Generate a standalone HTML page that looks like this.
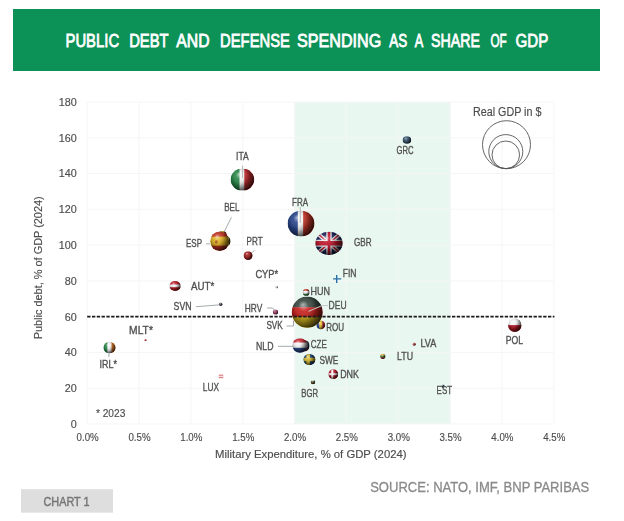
<!DOCTYPE html>
<html><head><meta charset="utf-8"><title>Public debt and defense spending</title>
<style>
html,body{margin:0;padding:0;background:#fff;}
body{width:624px;height:521px;overflow:hidden;position:relative;font-family:"Liberation Sans",sans-serif;}
svg{position:absolute;left:0;top:0;filter:blur(0.4px);}
text{font-family:"Liberation Sans",sans-serif;}
.lb{font-size:10.9px;fill:#505050;stroke:#505050;stroke-width:0.35px;}
.ax{font-size:10.8px;fill:#4c4c4c;stroke:#4c4c4c;stroke-width:0.15px;}
</style></head><body>
<svg width="624" height="521" viewBox="0 0 624 521">
<defs>
<radialGradient id="sh" cx="0.45" cy="0.42" r="0.62" fx="0.36" fy="0.26">
<stop offset="0" stop-color="#fff" stop-opacity="0.6"/>
<stop offset="0.28" stop-color="#fff" stop-opacity="0.08"/>
<stop offset="0.6" stop-color="#000" stop-opacity="0.18"/>
<stop offset="0.85" stop-color="#000" stop-opacity="0.5"/>
<stop offset="1" stop-color="#000" stop-opacity="0.78"/>
</radialGradient>
<linearGradient id="sr" x1="0" y1="0.2" x2="1" y2="0.6"><stop offset="0.55" stop-color="#000" stop-opacity="0"/><stop offset="1" stop-color="#1a0a00" stop-opacity="0.45"/></linearGradient>
<filter id="bl" x="-20%" y="-20%" width="140%" height="140%"><feGaussianBlur stdDeviation="0.45"/></filter>
</defs>

<rect x="13" y="9" width="587" height="62" fill="#0c9157"/>
<text x="65.5" y="47.2" font-size="18.5" fill="#fff" stroke="#fff" stroke-width="0.8" textLength="53.6" lengthAdjust="spacingAndGlyphs">PUBLIC</text>
<text x="129.2" y="47.2" font-size="18.5" fill="#fff" stroke="#fff" stroke-width="0.8" textLength="39.4" lengthAdjust="spacingAndGlyphs">DEBT</text>
<text x="176.3" y="47.2" font-size="18.5" fill="#fff" stroke="#fff" stroke-width="0.8" textLength="33.2" lengthAdjust="spacingAndGlyphs">AND</text>
<text x="220.1" y="47.2" font-size="18.5" fill="#fff" stroke="#fff" stroke-width="0.8" textLength="69.8" lengthAdjust="spacingAndGlyphs">DEFENSE</text>
<text x="297.0" y="47.2" font-size="18.5" fill="#fff" stroke="#fff" stroke-width="0.8" textLength="84.2" lengthAdjust="spacingAndGlyphs">SPENDING</text>
<text x="389.2" y="47.2" font-size="18.5" fill="#fff" stroke="#fff" stroke-width="0.8" textLength="18.0" lengthAdjust="spacingAndGlyphs">AS</text>
<text x="414.7" y="47.2" font-size="18.5" fill="#fff" stroke="#fff" stroke-width="0.8" textLength="8.5" lengthAdjust="spacingAndGlyphs">A</text>
<text x="431.1" y="47.2" font-size="18.5" fill="#fff" stroke="#fff" stroke-width="0.8" textLength="48.8" lengthAdjust="spacingAndGlyphs">SHARE</text>
<text x="490.4" y="47.2" font-size="18.5" fill="#fff" stroke="#fff" stroke-width="0.8" textLength="16.3" lengthAdjust="spacingAndGlyphs">OF</text>
<text x="515.5" y="47.2" font-size="18.5" fill="#fff" stroke="#fff" stroke-width="0.8" textLength="32.8" lengthAdjust="spacingAndGlyphs">GDP</text>
<rect x="294.6" y="102.0" width="156.1" height="322.0" fill="#e9f7f1"/>
<line x1="87.2" y1="102.0" x2="87.2" y2="424.0" stroke="#f5f5f5" stroke-width="1"/>
<line x1="139.1" y1="102.0" x2="139.1" y2="424.0" stroke="#f5f5f5" stroke-width="1"/>
<line x1="190.9" y1="102.0" x2="190.9" y2="424.0" stroke="#f5f5f5" stroke-width="1"/>
<line x1="242.8" y1="102.0" x2="242.8" y2="424.0" stroke="#f5f5f5" stroke-width="1"/>
<line x1="294.6" y1="102.0" x2="294.6" y2="424.0" stroke="#f5f5f5" stroke-width="1"/>
<line x1="346.4" y1="102.0" x2="346.4" y2="424.0" stroke="#f5f5f5" stroke-width="1"/>
<line x1="398.3" y1="102.0" x2="398.3" y2="424.0" stroke="#f5f5f5" stroke-width="1"/>
<line x1="450.1" y1="102.0" x2="450.1" y2="424.0" stroke="#f5f5f5" stroke-width="1"/>
<line x1="502.0" y1="102.0" x2="502.0" y2="424.0" stroke="#f5f5f5" stroke-width="1"/>
<line x1="553.9" y1="102.0" x2="553.9" y2="424.0" stroke="#f5f5f5" stroke-width="1"/>
<line x1="87.2" y1="424.0" x2="553.9" y2="424.0" stroke="#f5f5f5" stroke-width="1"/>
<line x1="87.2" y1="388.2" x2="553.9" y2="388.2" stroke="#f5f5f5" stroke-width="1"/>
<line x1="87.2" y1="352.4" x2="553.9" y2="352.4" stroke="#f5f5f5" stroke-width="1"/>
<line x1="87.2" y1="316.7" x2="553.9" y2="316.7" stroke="#f5f5f5" stroke-width="1"/>
<line x1="87.2" y1="280.9" x2="553.9" y2="280.9" stroke="#f5f5f5" stroke-width="1"/>
<line x1="87.2" y1="245.1" x2="553.9" y2="245.1" stroke="#f5f5f5" stroke-width="1"/>
<line x1="87.2" y1="209.3" x2="553.9" y2="209.3" stroke="#f5f5f5" stroke-width="1"/>
<line x1="87.2" y1="173.5" x2="553.9" y2="173.5" stroke="#f5f5f5" stroke-width="1"/>
<line x1="87.2" y1="137.8" x2="553.9" y2="137.8" stroke="#f5f5f5" stroke-width="1"/>
<line x1="87.2" y1="102.0" x2="553.9" y2="102.0" stroke="#f5f5f5" stroke-width="1"/>
<text class="ax" transform="translate(76.8,427.9) scale(1,1)" text-anchor="end">0</text>
<text class="ax" transform="translate(76.8,392.1) scale(1,1)" text-anchor="end">20</text>
<text class="ax" transform="translate(76.8,356.3) scale(1,1)" text-anchor="end">40</text>
<text class="ax" transform="translate(76.8,320.6) scale(1,1)" text-anchor="end">60</text>
<text class="ax" transform="translate(76.8,284.8) scale(1,1)" text-anchor="end">80</text>
<text class="ax" transform="translate(76.8,249.0) scale(1,1)" text-anchor="end">100</text>
<text class="ax" transform="translate(76.8,213.2) scale(1,1)" text-anchor="end">120</text>
<text class="ax" transform="translate(76.8,177.4) scale(1,1)" text-anchor="end">140</text>
<text class="ax" transform="translate(76.8,141.7) scale(1,1)" text-anchor="end">160</text>
<text class="ax" transform="translate(76.8,105.9) scale(1,1)" text-anchor="end">180</text>
<text class="ax" transform="translate(87.6,441.3) scale(0.9,1)" text-anchor="middle">0.0%</text>
<text class="ax" transform="translate(139.5,441.3) scale(0.9,1)" text-anchor="middle">0.5%</text>
<text class="ax" transform="translate(191.3,441.3) scale(0.9,1)" text-anchor="middle">1.0%</text>
<text class="ax" transform="translate(243.2,441.3) scale(0.9,1)" text-anchor="middle">1.5%</text>
<text class="ax" transform="translate(295.0,441.3) scale(0.9,1)" text-anchor="middle">2.0%</text>
<text class="ax" transform="translate(346.8,441.3) scale(0.9,1)" text-anchor="middle">2.5%</text>
<text class="ax" transform="translate(398.7,441.3) scale(0.9,1)" text-anchor="middle">3.0%</text>
<text class="ax" transform="translate(450.5,441.3) scale(0.9,1)" text-anchor="middle">3.5%</text>
<text class="ax" transform="translate(502.4,441.3) scale(0.9,1)" text-anchor="middle">4.0%</text>
<text class="ax" transform="translate(554.2,441.3) scale(0.9,1)" text-anchor="middle">4.5%</text>
<text class="ax" x="310.8" y="457.6" text-anchor="middle" textLength="191.5" lengthAdjust="spacingAndGlyphs">Military Expenditure, % of GDP (2024)</text>
<text class="ax" transform="translate(41.5,267.8) rotate(-90)" text-anchor="middle" textLength="143" lengthAdjust="spacingAndGlyphs">Public debt, % of GDP (2024)</text>
<text class="ax" x="507.2" y="116.4" text-anchor="middle" style="font-size:12px" textLength="68.5" lengthAdjust="spacingAndGlyphs">Real GDP in $</text>
<circle cx="506.5" cy="144.7" r="24" fill="none" stroke="#555" stroke-width="0.9"/>
<circle cx="505.8" cy="151.6" r="17" fill="none" stroke="#555" stroke-width="0.9"/>
<circle cx="505.8" cy="154.8" r="13.8" fill="none" stroke="#555" stroke-width="0.9"/>
<g filter="url(#bl)">
<clipPath id="c1"><ellipse cx="406.9" cy="140" rx="4.3" ry="3.8"/></clipPath>
<g clip-path="url(#c1)">
<rect x="402.59999999999997" y="136.2" width="8.6" height="7.6" fill="#3e5a72"/>
<ellipse cx="406.9" cy="140" rx="4.3" ry="3.8" fill="url(#sr)"/>
<ellipse cx="406.9" cy="140" rx="4.3" ry="3.8" fill="url(#sh)"/>
</g>
<clipPath id="c2"><ellipse cx="242.4" cy="179.6" rx="11.8" ry="11"/></clipPath>
<g clip-path="url(#c2)">
<rect x="230.60" y="168.60" width="9.27" height="22.00" fill="#2c8a4c"/>
<rect x="239.57" y="168.60" width="5.02" height="22.00" fill="#f2f2f2"/>
<rect x="244.29" y="168.60" width="10.21" height="22.00" fill="#c02c30"/>
<ellipse cx="242.4" cy="179.6" rx="11.8" ry="11" fill="url(#sr)"/>
<ellipse cx="242.4" cy="179.6" rx="11.8" ry="11" fill="url(#sh)"/>
</g>
<clipPath id="c3"><ellipse cx="222.6" cy="235" rx="4" ry="4"/></clipPath>
<g clip-path="url(#c3)">
<rect x="218.60" y="231.00" width="2.97" height="8.00" fill="#2a2418"/>
<rect x="221.27" y="231.00" width="2.97" height="8.00" fill="#c8a020"/>
<rect x="223.93" y="231.00" width="2.97" height="8.00" fill="#8a2a20"/>
<ellipse cx="222.6" cy="235" rx="4" ry="4" fill="url(#sr)"/>
<ellipse cx="222.6" cy="235" rx="4" ry="4" fill="url(#sh)"/>
</g>
<clipPath id="c4"><ellipse cx="226.5" cy="241.3" rx="4" ry="5"/></clipPath>
<g clip-path="url(#c4)">
<rect x="222.5" y="236.3" width="8" height="10" fill="#4a4a20"/>
<ellipse cx="226.5" cy="241.3" rx="4" ry="5" fill="url(#sr)"/>
<ellipse cx="226.5" cy="241.3" rx="4" ry="5" fill="url(#sh)"/>
</g>
<path d="M231.4 217.3 L224.2 231.8" fill="none" stroke="#9aa0a4" stroke-width="0.9"/>
<clipPath id="c5"><ellipse cx="219.7" cy="241.2" rx="9.5" ry="9.8"/></clipPath>
<g clip-path="url(#c5)">
<rect x="210.20" y="231.40" width="19.00" height="5.59" fill="#c43a28"/>
<rect x="210.20" y="236.69" width="19.00" height="9.32" fill="#e0b428"/>
<rect x="210.20" y="245.71" width="19.00" height="5.59" fill="#b83020"/>
<ellipse cx="219.7" cy="241.2" rx="9.5" ry="9.8" fill="url(#sr)"/>
<ellipse cx="219.7" cy="241.2" rx="9.5" ry="9.8" fill="url(#sh)"/>
</g>
<ellipse cx="216.3" cy="242" rx="1.4" ry="1.8" fill="#a0502a" opacity="0.8"/>
<clipPath id="c6"><ellipse cx="248.1" cy="255.6" rx="4.5" ry="4.3"/></clipPath>
<g clip-path="url(#c6)">
<rect x="243.6" y="251.29999999999998" width="9.0" height="8.6" fill="#a82828"/>
<ellipse cx="248.1" cy="255.6" rx="4.5" ry="4.3" fill="url(#sr)"/>
<ellipse cx="248.1" cy="255.6" rx="4.5" ry="4.3" fill="url(#sh)"/>
</g>
<clipPath id="c7"><ellipse cx="301" cy="223.6" rx="13.4" ry="12.8"/></clipPath>
<g clip-path="url(#c7)">
<rect x="287.60" y="210.80" width="10.48" height="25.60" fill="#2a468c"/>
<rect x="297.78" y="210.80" width="5.66" height="25.60" fill="#f2f2f2"/>
<rect x="303.14" y="210.80" width="11.56" height="25.60" fill="#c8382c"/>
<ellipse cx="301" cy="223.6" rx="13.4" ry="12.8" fill="url(#sr)"/>
<ellipse cx="301" cy="223.6" rx="13.4" ry="12.8" fill="url(#sh)"/>
</g>
<clipPath id="c8"><ellipse cx="329" cy="243.3" rx="13.6" ry="11.6"/></clipPath>
<g clip-path="url(#c8)">
<rect x="315.4" y="231.70000000000002" width="27.2" height="23.2" fill="#1c2458"/>
<path d="M315.4 231.70000000000002 L342.59999999999997 254.9 M342.59999999999997 231.70000000000002 L315.4 254.9" stroke="#e8e8ee" stroke-width="3.94"/>
<path d="M315.4 231.70000000000002 L342.59999999999997 254.9 M342.59999999999997 231.70000000000002 L315.4 254.9" stroke="#c0182c" stroke-width="1.39"/>
<path d="M329 231.70000000000002 V254.9" stroke="#e8e8ee" stroke-width="5.44"/>
<path d="M315.4 243.3 H342.59999999999997" stroke="#e8e8ee" stroke-width="6.96"/>
<path d="M329 231.70000000000002 V254.9" stroke="#c0182c" stroke-width="2.72"/>
<path d="M315.4 243.3 H342.59999999999997" stroke="#c0182c" stroke-width="4.41"/>
<ellipse cx="329" cy="243.3" rx="13.6" ry="11.6" fill="url(#sr)"/>
<ellipse cx="329" cy="243.3" rx="13.6" ry="11.6" fill="url(#sh)"/>
</g>
<clipPath id="c9"><ellipse cx="175.1" cy="286" rx="5.7" ry="5.1"/></clipPath>
<g clip-path="url(#c9)">
<rect x="169.40" y="280.90" width="11.40" height="3.97" fill="#b8202c"/>
<rect x="169.40" y="284.57" width="11.40" height="2.95" fill="#f2f2f2"/>
<rect x="169.40" y="287.22" width="11.40" height="4.18" fill="#b8202c"/>
<ellipse cx="175.1" cy="286" rx="5.7" ry="5.1" fill="url(#sr)"/>
<ellipse cx="175.1" cy="286" rx="5.7" ry="5.1" fill="url(#sh)"/>
</g>
<clipPath id="c10"><ellipse cx="276.8" cy="287.1" rx="1.4" ry="1.4"/></clipPath>
<g clip-path="url(#c10)">
<rect x="275.40000000000003" y="285.70000000000005" width="2.8" height="2.8" fill="#bbb"/>
<ellipse cx="276.8" cy="287.1" rx="1.4" ry="1.4" fill="url(#sr)"/>
<ellipse cx="276.8" cy="287.1" rx="1.4" ry="1.4" fill="url(#sh)"/>
</g>
<clipPath id="c11"><ellipse cx="220.7" cy="304.3" rx="1.8" ry="1.8"/></clipPath>
<g clip-path="url(#c11)">
<rect x="218.89999999999998" y="302.5" width="3.6" height="3.6" fill="#556"/>
<ellipse cx="220.7" cy="304.3" rx="1.8" ry="1.8" fill="url(#sr)"/>
<ellipse cx="220.7" cy="304.3" rx="1.8" ry="1.8" fill="url(#sh)"/>
</g>
<clipPath id="c12"><ellipse cx="275.5" cy="312" rx="2.6" ry="2.6"/></clipPath>
<g clip-path="url(#c12)">
<rect x="272.9" y="309.4" width="5.2" height="5.2" fill="#a04870"/>
<ellipse cx="275.5" cy="312" rx="2.6" ry="2.6" fill="url(#sr)"/>
<ellipse cx="275.5" cy="312" rx="2.6" ry="2.6" fill="url(#sh)"/>
</g>
<clipPath id="c13"><ellipse cx="306.2" cy="292.4" rx="3.4" ry="3.4"/></clipPath>
<g clip-path="url(#c13)">
<rect x="302.80" y="289.00" width="6.80" height="2.34" fill="#c84838"/>
<rect x="302.80" y="291.04" width="6.80" height="3.02" fill="#f2f2f2"/>
<rect x="302.80" y="293.76" width="6.80" height="2.34" fill="#4a8a5a"/>
<ellipse cx="306.2" cy="292.4" rx="3.4" ry="3.4" fill="url(#sr)"/>
<ellipse cx="306.2" cy="292.4" rx="3.4" ry="3.4" fill="url(#sh)"/>
</g>
<path d="M333.1 278.9 H341.2 M336.7 275.1 V282.9" stroke="#2a70a8" stroke-width="1.4" fill="none"/>
<clipPath id="c14"><ellipse cx="320.8" cy="325" rx="4.4" ry="4.4"/></clipPath>
<g clip-path="url(#c14)">
<rect x="316.40" y="320.60" width="3.23" height="8.80" fill="#2c4aa0"/>
<rect x="319.33" y="320.60" width="3.23" height="8.80" fill="#e8c030"/>
<rect x="322.27" y="320.60" width="3.23" height="8.80" fill="#c8303a"/>
<ellipse cx="320.8" cy="325" rx="4.4" ry="4.4" fill="url(#sr)"/>
<ellipse cx="320.8" cy="325" rx="4.4" ry="4.4" fill="url(#sh)"/>
</g>
<clipPath id="c15"><ellipse cx="307.2" cy="312.2" rx="15.5" ry="15.6"/></clipPath>
<g clip-path="url(#c15)">
<rect x="291.70" y="296.60" width="31.00" height="10.91" fill="#3c4a44"/>
<rect x="291.70" y="307.21" width="31.00" height="9.97" fill="#c82420"/>
<rect x="291.70" y="316.88" width="31.00" height="11.22" fill="#c8ac20"/>
<ellipse cx="307.2" cy="312.2" rx="15.5" ry="15.6" fill="url(#sr)"/>
<ellipse cx="307.2" cy="312.2" rx="15.5" ry="15.6" fill="url(#sh)"/>
</g>
<clipPath id="c16"><ellipse cx="304.7" cy="345.8" rx="4.8" ry="5.6"/></clipPath>
<g clip-path="url(#c16)">
<rect x="299.90" y="340.20" width="9.60" height="3.66" fill="#2a2a40"/>
<rect x="299.90" y="343.56" width="9.60" height="4.78" fill="#1a2850"/>
<rect x="299.90" y="348.04" width="9.60" height="3.66" fill="#602030"/>
<ellipse cx="304.7" cy="345.8" rx="4.8" ry="5.6" fill="url(#sr)"/>
<ellipse cx="304.7" cy="345.8" rx="4.8" ry="5.6" fill="url(#sh)"/>
</g>
<clipPath id="c17"><ellipse cx="299.9" cy="345.5" rx="7.6" ry="7.3"/></clipPath>
<g clip-path="url(#c17)">
<rect x="292.30" y="338.20" width="15.20" height="4.68" fill="#c8303a"/>
<rect x="292.30" y="342.58" width="15.20" height="5.56" fill="#f2f2f2"/>
<rect x="292.30" y="347.84" width="15.20" height="5.26" fill="#2c4a8c"/>
<ellipse cx="299.9" cy="345.5" rx="7.6" ry="7.3" fill="url(#sr)"/>
<ellipse cx="299.9" cy="345.5" rx="7.6" ry="7.3" fill="url(#sh)"/>
</g>
<clipPath id="c18"><ellipse cx="309.4" cy="359.5" rx="6" ry="5.6"/></clipPath>
<g clip-path="url(#c18)">
<rect x="303.4" y="353.9" width="12" height="11.2" fill="#1c4478"/>
<rect x="303.4" y="357.71" width="12" height="3.58" fill="#d4b830"/>
<rect x="306.41" y="353.9" width="3.58" height="11.2" fill="#d4b830"/>
<ellipse cx="309.4" cy="359.5" rx="6" ry="5.6" fill="url(#sr)"/>
<ellipse cx="309.4" cy="359.5" rx="6" ry="5.6" fill="url(#sh)"/>
</g>
<clipPath id="c19"><ellipse cx="333.3" cy="374.2" rx="4.9" ry="4.9"/></clipPath>
<g clip-path="url(#c19)">
<rect x="328.40000000000003" y="369.3" width="9.8" height="9.8" fill="#b81c2c"/>
<rect x="328.40000000000003" y="373.22" width="9.8" height="1.96" fill="#f2f2f2"/>
<rect x="331.34" y="369.3" width="1.96" height="9.8" fill="#f2f2f2"/>
<ellipse cx="333.3" cy="374.2" rx="4.9" ry="4.9" fill="url(#sr)"/>
<ellipse cx="333.3" cy="374.2" rx="4.9" ry="4.9" fill="url(#sh)"/>
</g>
<clipPath id="c20"><ellipse cx="313" cy="382" rx="2.3" ry="2.3"/></clipPath>
<g clip-path="url(#c20)">
<rect x="310.70" y="379.70" width="4.60" height="1.45" fill="#e8e8e8"/>
<rect x="310.70" y="380.85" width="4.60" height="2.14" fill="#4a6a3a"/>
<rect x="310.70" y="382.69" width="4.60" height="1.91" fill="#703030"/>
<ellipse cx="313" cy="382" rx="2.3" ry="2.3" fill="url(#sr)"/>
<ellipse cx="313" cy="382" rx="2.3" ry="2.3" fill="url(#sh)"/>
</g>
<clipPath id="c21"><ellipse cx="382.8" cy="356.3" rx="2.6" ry="2.6"/></clipPath>
<g clip-path="url(#c21)">
<rect x="380.20" y="353.70" width="5.20" height="2.03" fill="#d8b030"/>
<rect x="380.20" y="355.43" width="5.20" height="2.03" fill="#4a7a3a"/>
<rect x="380.20" y="357.17" width="5.20" height="2.03" fill="#903030"/>
<ellipse cx="382.8" cy="356.3" rx="2.6" ry="2.6" fill="url(#sr)"/>
<ellipse cx="382.8" cy="356.3" rx="2.6" ry="2.6" fill="url(#sh)"/>
</g>
<clipPath id="c22"><ellipse cx="414.2" cy="344.2" rx="1.6" ry="1.6"/></clipPath>
<g clip-path="url(#c22)">
<rect x="412.59999999999997" y="342.59999999999997" width="3.2" height="3.2" fill="#b04040"/>
<ellipse cx="414.2" cy="344.2" rx="1.6" ry="1.6" fill="url(#sr)"/>
<ellipse cx="414.2" cy="344.2" rx="1.6" ry="1.6" fill="url(#sh)"/>
</g>
<clipPath id="c23"><ellipse cx="443" cy="386.2" rx="1.6" ry="1.6"/></clipPath>
<g clip-path="url(#c23)">
<rect x="441.4" y="384.59999999999997" width="3.2" height="3.2" fill="#234"/>
<ellipse cx="443" cy="386.2" rx="1.6" ry="1.6" fill="url(#sr)"/>
<ellipse cx="443" cy="386.2" rx="1.6" ry="1.6" fill="url(#sh)"/>
</g>
<clipPath id="c24"><ellipse cx="514.8" cy="325.1" rx="6.8" ry="6.8"/></clipPath>
<g clip-path="url(#c24)">
<rect x="508.00" y="318.30" width="13.60" height="7.10" fill="#f2f2f2"/>
<rect x="508.00" y="325.10" width="13.60" height="7.10" fill="#b01828"/>
<ellipse cx="514.8" cy="325.1" rx="6.8" ry="6.8" fill="url(#sr)"/>
<ellipse cx="514.8" cy="325.1" rx="6.8" ry="6.8" fill="url(#sh)"/>
</g>
<clipPath id="c25"><ellipse cx="145.5" cy="340.2" rx="1.1" ry="1.1"/></clipPath>
<g clip-path="url(#c25)">
<rect x="144.4" y="339.09999999999997" width="2.2" height="2.2" fill="#c03030"/>
<ellipse cx="145.5" cy="340.2" rx="1.1" ry="1.1" fill="url(#sr)"/>
<ellipse cx="145.5" cy="340.2" rx="1.1" ry="1.1" fill="url(#sh)"/>
</g>
<clipPath id="c26"><ellipse cx="109.5" cy="347.6" rx="6.1" ry="5.9"/></clipPath>
<g clip-path="url(#c26)">
<rect x="103.40" y="341.70" width="4.37" height="11.80" fill="#2e8b4e"/>
<rect x="107.47" y="341.70" width="4.37" height="11.80" fill="#f2f2f2"/>
<rect x="111.53" y="341.70" width="4.37" height="11.80" fill="#e08030"/>
<ellipse cx="109.5" cy="347.6" rx="6.1" ry="5.9" fill="url(#sr)"/>
<ellipse cx="109.5" cy="347.6" rx="6.1" ry="5.9" fill="url(#sh)"/>
</g>
<rect x="218.8" y="374.6" width="4.4" height="3.6" fill="#e08088"/><rect x="218.8" y="375.8" width="4.4" height="1.2" fill="#f4e0e4"/>
<line x1="87.2" y1="316.7" x2="554.4" y2="316.7" stroke="#1c1c1c" stroke-width="1.7" stroke-dasharray="3.3,1.5"/>
<path d="M242.6 165.5 L242.6 178" fill="none" stroke="#b8b8b8" stroke-width="1.0"/>
<path d="M300.3 207 L300.3 223" fill="none" stroke="#b8b8b8" stroke-width="1.0"/>
<path d="M206.2 243.8 L209.8 243.8" fill="none" stroke="#9aa0a4" stroke-width="0.9"/>
<path d="M252.2 252.5 L254.6 250.2" fill="none" stroke="#9aa0a4" stroke-width="0.9"/>
<path d="M196.1 306.7 L219.4 304.9" fill="none" stroke="#9aa0a4" stroke-width="0.9"/>
<path d="M267 308 L272.5 308 L274.5 310" fill="none" stroke="#9aa0a4" stroke-width="0.9"/>
<path d="M328 305.6 L322 305.6 L308.5 311.4" fill="none" stroke="#c8c8c8" stroke-width="1.0"/>
<path d="M286.5 326 L293.5 326 L293.5 320.5" fill="none" stroke="#9aa0a4" stroke-width="0.9"/>
<path d="M277.9 346.3 L293.3 346.3" fill="none" stroke="#9aa0a4" stroke-width="0.9"/>
<path d="M108.9 353.4 L108.9 357.2" fill="none" stroke="#9aa0a4" stroke-width="0.9"/>
</g>
<text class="lb" x="236.1" y="160.3" textLength="12.7" lengthAdjust="spacingAndGlyphs">ITA</text>
<text class="lb" x="224.2" y="211.3" textLength="15.3" lengthAdjust="spacingAndGlyphs">BEL</text>
<text class="lb" x="186.0" y="246.8" textLength="16.0" lengthAdjust="spacingAndGlyphs">ESP</text>
<text class="lb" x="246.6" y="245.2" textLength="16.0" lengthAdjust="spacingAndGlyphs">PRT</text>
<text class="lb" x="292.1" y="205.5" textLength="16.0" lengthAdjust="spacingAndGlyphs">FRA</text>
<text class="lb" x="354.0" y="245.7" textLength="17.6" lengthAdjust="spacingAndGlyphs">GBR</text>
<text class="lb" x="396.5" y="154.2" textLength="17.1" lengthAdjust="spacingAndGlyphs">GRC</text>
<text class="lb" x="191.1" y="289.5" textLength="23.2" lengthAdjust="spacingAndGlyphs">AUT*</text>
<text class="lb" x="255.4" y="277.7" textLength="22.7" lengthAdjust="spacingAndGlyphs">CYP*</text>
<text class="lb" x="173.6" y="310.0" textLength="18.0" lengthAdjust="spacingAndGlyphs">SVN</text>
<text class="lb" x="244.8" y="311.6" textLength="17.4" lengthAdjust="spacingAndGlyphs">HRV</text>
<text class="lb" x="310.5" y="294.8" textLength="19.5" lengthAdjust="spacingAndGlyphs">HUN</text>
<text class="lb" x="342.7" y="276.6" textLength="13.7" lengthAdjust="spacingAndGlyphs">FIN</text>
<text class="lb" x="328.6" y="308.7" textLength="18.0" lengthAdjust="spacingAndGlyphs">DEU</text>
<text class="lb" x="266.4" y="328.8" textLength="16.4" lengthAdjust="spacingAndGlyphs">SVK</text>
<text class="lb" x="326.2" y="330.7" textLength="17.9" lengthAdjust="spacingAndGlyphs">ROU</text>
<text class="lb" x="256.0" y="349.7" textLength="17.5" lengthAdjust="spacingAndGlyphs">NLD</text>
<text class="lb" x="310.8" y="348.2" textLength="16.0" lengthAdjust="spacingAndGlyphs">CZE</text>
<text class="lb" x="319.4" y="363.6" textLength="18.9" lengthAdjust="spacingAndGlyphs">SWE</text>
<text class="lb" x="340.2" y="377.9" textLength="18.8" lengthAdjust="spacingAndGlyphs">DNK</text>
<text class="lb" x="301.2" y="397.4" textLength="16.9" lengthAdjust="spacingAndGlyphs">BGR</text>
<text class="lb" x="397.0" y="359.9" textLength="16.0" lengthAdjust="spacingAndGlyphs">LTU</text>
<text class="lb" x="420.4" y="347.1" textLength="15.8" lengthAdjust="spacingAndGlyphs">LVA</text>
<text class="lb" x="436.6" y="393.9" textLength="15.4" lengthAdjust="spacingAndGlyphs">EST</text>
<text class="lb" x="505.7" y="344.1" textLength="17.3" lengthAdjust="spacingAndGlyphs">POL</text>
<text class="lb" x="129.1" y="333.9" textLength="23.8" lengthAdjust="spacingAndGlyphs">MLT*</text>
<text class="lb" x="99.6" y="368.3" textLength="17.4" lengthAdjust="spacingAndGlyphs">IRL*</text>
<text class="lb" x="202.8" y="390.9" textLength="16.1" lengthAdjust="spacingAndGlyphs">LUX</text>
<text class="ax" x="95.9" y="416.6" textLength="29.4" lengthAdjust="spacingAndGlyphs">* 2023</text>
<rect x="21" y="489.2" width="92" height="23.5" fill="#dedede"/>
<text x="66.5" y="505.6" text-anchor="middle" font-size="13" fill="#767676" stroke="#767676" stroke-width="0.45" textLength="46" lengthAdjust="spacingAndGlyphs">CHART 1</text>
<text x="589.2" y="491.9" text-anchor="end" font-size="14.5" fill="#8a8a8a" stroke="#8a8a8a" stroke-width="0.3" textLength="219" lengthAdjust="spacingAndGlyphs">SOURCE: NATO, IMF, BNP PARIBAS</text>
</svg></body></html>
